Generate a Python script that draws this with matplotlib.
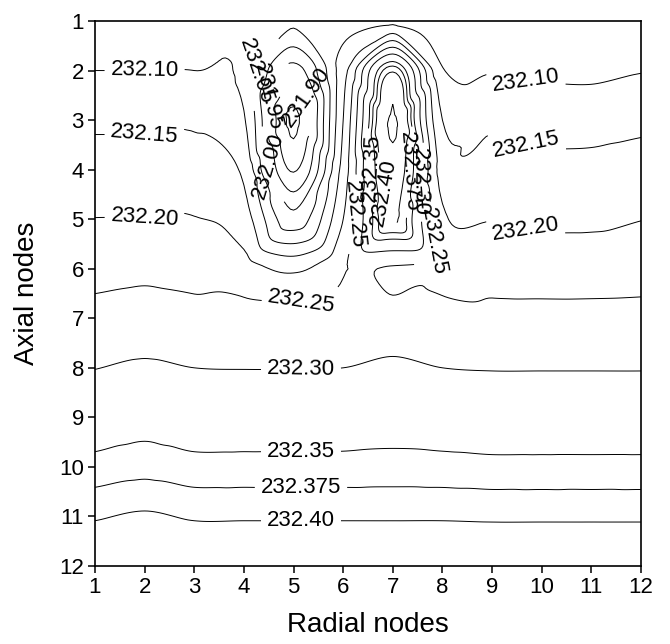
import numpy as np
import matplotlib.pyplot as plt
import matplotlib.tri as mtri

plt.rcParams['font.family'] = ['Liberation Sans', 'DejaVu Sans']

radial = np.arange(1, 13)
axial = np.arange(1, 13)

# temperature at each node: rows = axial nodes 1..12, columns = radial nodes 1..12
temp = np.array([
    [232.065, 232.065, 232.065, 232.062, 232.060, 232.070, 232.085, 232.075, 232.065, 232.064, 232.064, 232.066],
    [232.100, 232.100, 232.100, 232.088, 231.930, 232.130, 232.395, 232.105, 232.097, 232.090, 232.089, 232.098],
    [232.140, 232.140, 232.142, 232.105, 231.840, 232.150, 232.455, 232.150, 232.140, 232.132, 232.132, 232.138],
    [232.172, 232.172, 232.174, 232.138, 231.895, 232.170, 232.430, 232.180, 232.170, 232.163, 232.163, 232.170],
    [232.201, 232.201, 232.202, 232.172, 232.020, 232.200, 232.405, 232.210, 232.198, 232.191, 232.191, 232.199],
    [232.234, 232.238, 232.234, 232.222, 232.190, 232.245, 232.245, 232.235, 232.230, 232.228, 232.228, 232.230],
    [232.266, 232.273, 232.266, 232.266, 232.266, 232.266, 232.275, 232.268, 232.264, 232.264, 232.264, 232.265],
    [232.299, 232.306, 232.300, 232.299, 232.299, 232.300, 232.307, 232.300, 232.298, 232.298, 232.298, 232.298],
    [232.329, 232.336, 232.329, 232.329, 232.329, 232.330, 232.333, 232.330, 232.328, 232.328, 232.328, 232.328],
    [232.360, 232.366, 232.360, 232.360, 232.360, 232.360, 232.361, 232.360, 232.358, 232.358, 232.358, 232.358],
    [232.397, 232.404, 232.397, 232.397, 232.397, 232.397, 232.397, 232.397, 232.396, 232.396, 232.396, 232.396],
    [232.430, 232.436, 232.430, 232.430, 232.430, 232.430, 232.430, 232.430, 232.430, 232.430, 232.430, 232.430],
])

extra = [231.85, 232.45]   # tiny unlabelled rings at the two centres

# labelled levels and where their labels sit on the lines
label_pos = {
    231.90: [(5.33, 2.5)],
    231.95: [(4.53, 2.55)],
    232.00: [(4.6, 3.9)],
    232.05: [(4.13, 2.0)],
    232.10: [(2.0, 2.0), (9.7, 2.1)],
    232.15: [(2.0, 3.3), (9.7, 3.45)],
    232.20: [(2.0, 4.96), (9.7, 5.05)],
    232.25: [(5.15, 6.6), (6.14, 4.9), (7.75, 5.46)],
    232.30: [(5.15, 8.05), (7.51, 4.25)],
    232.35: [(5.15, 9.73), (6.4, 3.97)],
    232.375: [(5.15, 10.42), (7.31, 4.05)],
    232.40: [(5.15, 11.03), (6.85, 4.45)],
}

X, Y = np.meshgrid(radial, axial)
nx = len(radial)
tris = []
for j in range(len(axial) - 1):
    for i in range(nx - 1):
        a = j * nx + i
        # alternate the diagonal so the mesh has no preferred direction
        if (i + j) % 2 == 0:
            tris += [[a, a + 1, a + nx + 1], [a, a + nx + 1, a + nx]]
        else:
            tris += [[a, a + 1, a + nx], [a + 1, a + nx + 1, a + nx]]
triang = mtri.Triangulation(X.ravel(), Y.ravel(), tris)
interp = mtri.CubicTriInterpolator(triang, temp.ravel(), kind='geom')
tri_fine, z_fine = mtri.UniformTriRefiner(triang).refine_field(temp.ravel(), interp, subdiv=4)

fig = plt.figure(figsize=(6.7, 6.44), dpi=100)
ax = fig.add_axes([95 / 670, 1 - 566 / 644, 546 / 670, 545 / 644])

for lv, pos in label_pos.items():
    cs = ax.tricontour(tri_fine, z_fine, levels=[lv], colors='black', linewidths=0.7)
    txt = '%.3f' % lv if lv == 232.375 else '%.2f' % lv
    ax.clabel(cs, manual=pos, inline=True, fmt={lv: txt}, fontsize=16, inline_spacing=6)
ax.tricontour(tri_fine, z_fine, levels=extra, colors='black', linewidths=0.7)

ax.set_xlim(1, 12)
ax.set_ylim(12, 1)
ax.set_xticks(radial)
ax.set_yticks(axial)
ax.tick_params(direction='out', length=5, width=1.1, labelsize=16, pad=3)
for s in ax.spines.values():
    s.set_linewidth(1.2)

ax.set_xlabel('Radial nodes', fontsize=20)
ax.set_ylabel('Axial nodes', fontsize=20)
ax.xaxis.set_label_coords(0.5, -0.085)
ax.yaxis.set_label_coords(-0.1, 0.5)

plt.savefig('out.png', dpi=100)
